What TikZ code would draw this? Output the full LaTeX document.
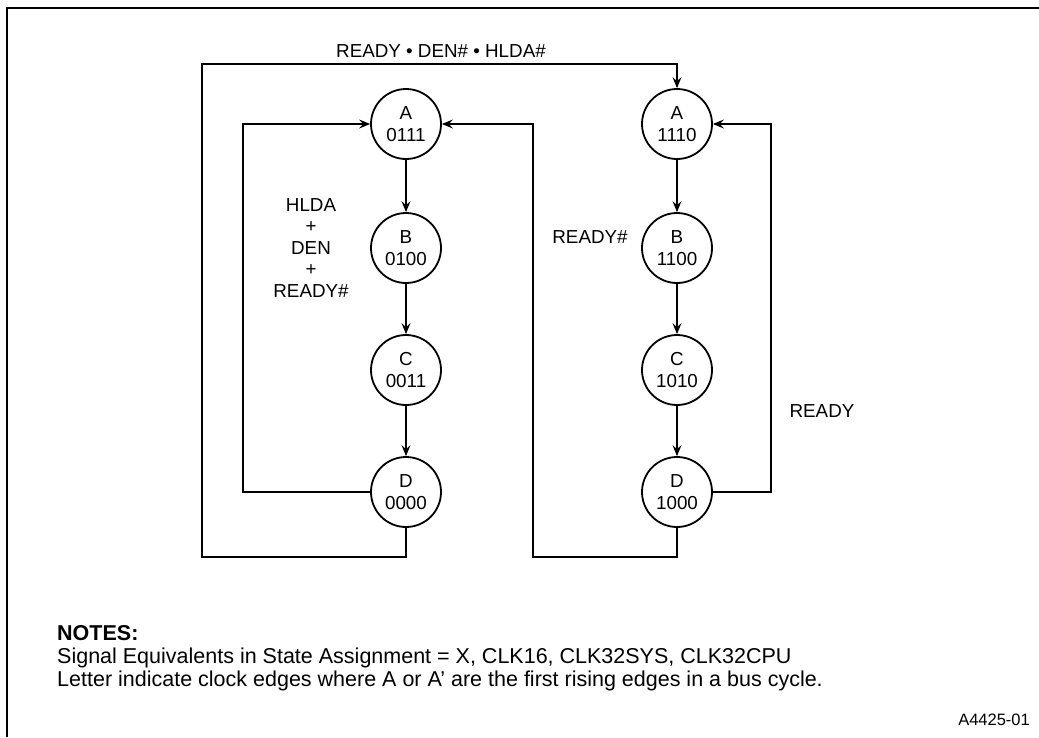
\documentclass[tikz,border=0pt]{standalone}
\usepackage{fontspec}
\setmainfont{Liberation Sans}
\usetikzlibrary{arrows.meta}
\pgfdeclarelayer{edgelayer}
\pgfdeclarelayer{nodelayer}
\pgfsetlayers{edgelayer,nodelayer,main}
\tikzset{font=\fontsize{18.8}{21.5}\selectfont}
\tikzstyle{none}=[inner sep=0pt]
\tikzstyle{state}=[circle,draw,line width=1.8pt,minimum size=70pt,inner sep=0pt,align=center,fill=white]
\tikzstyle{label}=[inner sep=0pt,align=center]
\tikzstyle{note}=[inner sep=0pt,anchor=base west,font=\fontsize{21.5}{23}\selectfont]
\tikzstyle{wire}=[line width=1.1pt]
\tikzstyle{arr}=[line width=1.1pt,-{Stealth[length=11pt,width=9pt,inset=4pt]}]

\begin{document}
\begin{tikzpicture}[x=1pt,y=-1pt]
	\useasboundingbox (0,0) rectangle (1039,737);
	\begin{pgfonlayer}{nodelayer}
		\node [style=state] (0) at (406, 124) {A\\0111};
		\node [style=state] (1) at (406, 248) {B\\0100};
		\node [style=state] (2) at (406, 370) {C\\0011};
		\node [style=state] (3) at (406, 492) {D\\0000};
		\node [style=state] (4) at (677, 124) {A\\1110};
		\node [style=state] (5) at (677, 248) {B\\1100};
		\node [style=state] (6) at (677, 370) {C\\1010};
		\node [style=state] (7) at (677, 492) {D\\1000};
		\node [style=none] (8) at (406, 557) {};
		\node [style=none] (9) at (202, 557) {};
		\node [style=none] (10) at (202, 64) {};
		\node [style=none] (11) at (677, 64) {};
		\node [style=none] (12) at (243, 492) {};
		\node [style=none] (13) at (243, 124) {};
		\node [style=none] (14) at (677, 557) {};
		\node [style=none] (15) at (533, 557) {};
		\node [style=none] (16) at (533, 124) {};
		\node [style=none] (17) at (771, 492) {};
		\node [style=none] (18) at (771, 124) {};
		\node [style=none] (19) at (7, 737) {};
		\node [style=none] (20) at (7, 8) {};
		\node [style=none] (21) at (1039, 8) {};
		\node [style=label] (22) at (441, 51) {READY • DEN\# • HLDA\#};
		\node [style=label] (23) at (311, 248) {HLDA\\+\\DEN\\+\\READY\#};
		\node [style=label] (24) at (590, 237) {READY\#};
		\node [style=label] (25) at (822, 411) {READY};
		\node [style=note] (26) at (57, 640) {\bfseries NOTES:};
		\node [style=note] (27) at (57, 663) {Signal Equivalents in State Assignment = X, CLK16, CLK32SYS, CLK32CPU};
		\node [style=note] (28) at (57, 686) {Letter indicate clock edges where A or A\char39{} are the first rising edges in a bus cycle.};
		\node [style=note, anchor=base east, font=\fontsize{16.5}{19}\selectfont] (29) at (1030, 725) {A4425-01};
	\end{pgfonlayer}
	\begin{pgfonlayer}{edgelayer}
		\draw [style=wire] (19.center) to (20.center) to (21.center);
		\draw [style=arr] (0) to (1);
		\draw [style=arr] (1) to (2);
		\draw [style=arr] (2) to (3);
		\draw [style=arr] (4) to (5);
		\draw [style=arr] (5) to (6);
		\draw [style=arr] (6) to (7);
		\draw [style=arr] (3) to (8.center) to (9.center) to (10.center) to (11.center) to (4);
		\draw [style=arr] (3) to (12.center) to (13.center) to (0);
		\draw [style=arr] (7) to (14.center) to (15.center) to (16.center) to (0);
		\draw [style=arr] (7) to (17.center) to (18.center) to (4);
	\end{pgfonlayer}
\end{tikzpicture}
\end{document}
